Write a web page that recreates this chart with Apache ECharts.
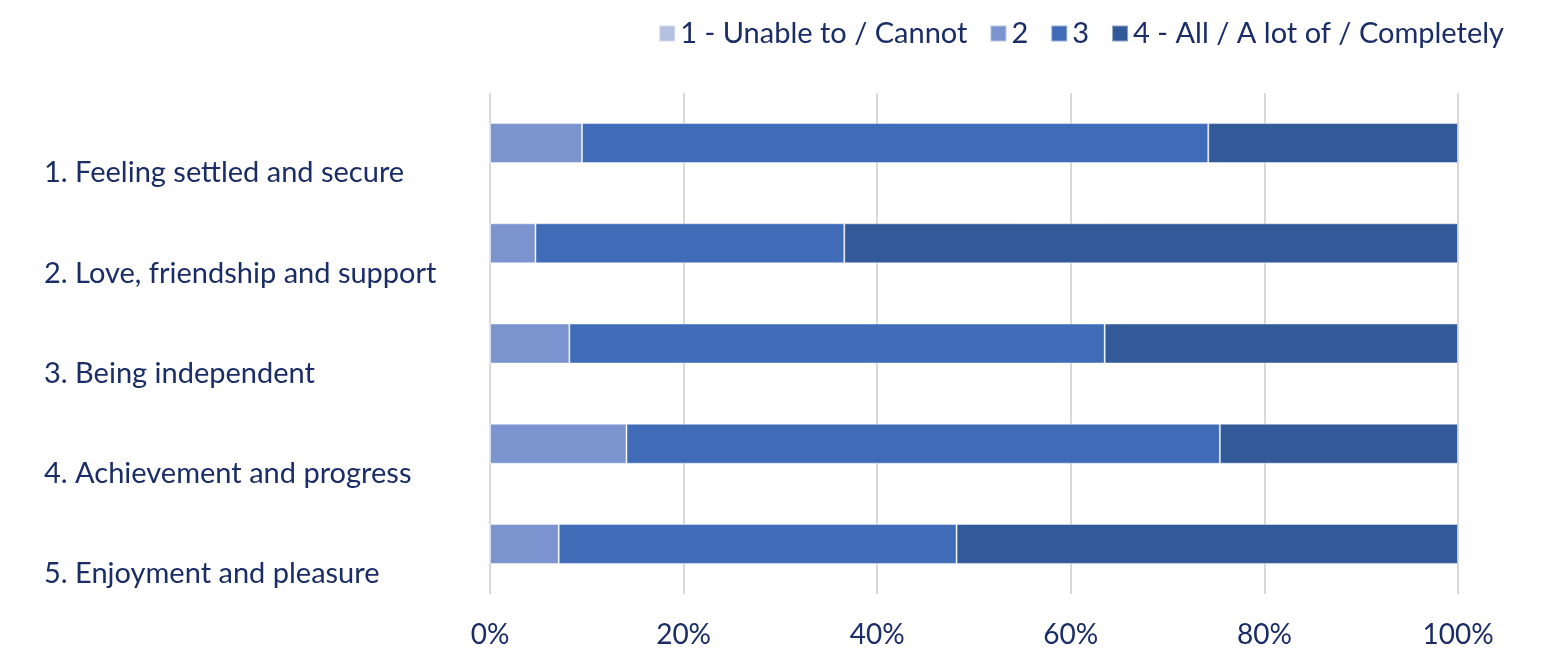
<!DOCTYPE html>
<html>
<head>
<meta charset="utf-8">
<script src="https://cdn.jsdelivr.net/npm/echarts@6/dist/echarts.min.js"></script>
<style>
html,body{margin:0;padding:0;background:#fff;}
#chart{width:1549px;height:650px;}
</style>
</head>
<body>
<div id="chart"></div>
<script>
const categories = [
  "1. Feeling settled and secure",
  "2. Love, friendship and support",
  "3. Being independent",
  "4. Achievement and progress",
  "5. Enjoyment and pleasure"
];
const seriesNames = ["1 - Unable to / Cannot", "2", "3", "4 - All / A lot of / Completely"];
const s1 = [0, 0, 0, 0, 0];
const s2 = [9.5, 4.7, 8.2, 14.1, 7.1];
const s3 = [64.7, 31.9, 55.3, 61.3, 41.1];
const s4 = [25.8, 63.4, 36.5, 24.6, 51.8];
const xTicks = [0, 20, 40, 60, 80, 100];

const colors = ["#B4C1E1", "#7B93CF", "#3F6BB7", "#325A99"];
const textColor = "#1A2D66";
const font = "Lato";

const chart = echarts.init(document.getElementById('chart'));
const values = [s1, s2, s3, s4];
chart.setOption({
  animation: false,
  color: colors,
  textStyle: {fontFamily: font},
  legend: {
    right: 40, top: 14,
    itemWidth: 16, itemHeight: 16, itemGap: 22,
    icon: 'rect',
    textStyle: {fontSize: 29, color: textColor, fontFamily: font},
    data: seriesNames
  },
  grid: {left: 490, right: 91, top: 93, bottom: 56, containLabel: false},
  xAxis: {
    type: 'value', min: xTicks[0], max: xTicks[xTicks.length - 1], interval: 20,
    axisLine: {show: false}, axisTick: {show: false},
    splitLine: {show: true, lineStyle: {color: '#D9D9D9', width: 2}},
    axisLabel: {formatter: '{value}%', fontSize: 28, color: textColor, fontFamily: font, margin: 27}
  },
  yAxis: {
    type: 'category', inverse: true, data: categories,
    axisLine: {show: false}, axisTick: {show: false},
    axisLabel: {
      align: 'left', verticalAlign: 'top', lineHeight: 60,
      margin: 446, fontSize: 29, color: textColor, fontFamily: font
    }
  },
  series: seriesNames.map((n, i) => ({
    name: n, type: 'bar', stack: 'total', barWidth: 40,
    itemStyle: {borderColor: 'rgba(255,255,255,0.45)', borderWidth: 1},
    data: values[i]
  }))
});
</script>
</body>
</html>
